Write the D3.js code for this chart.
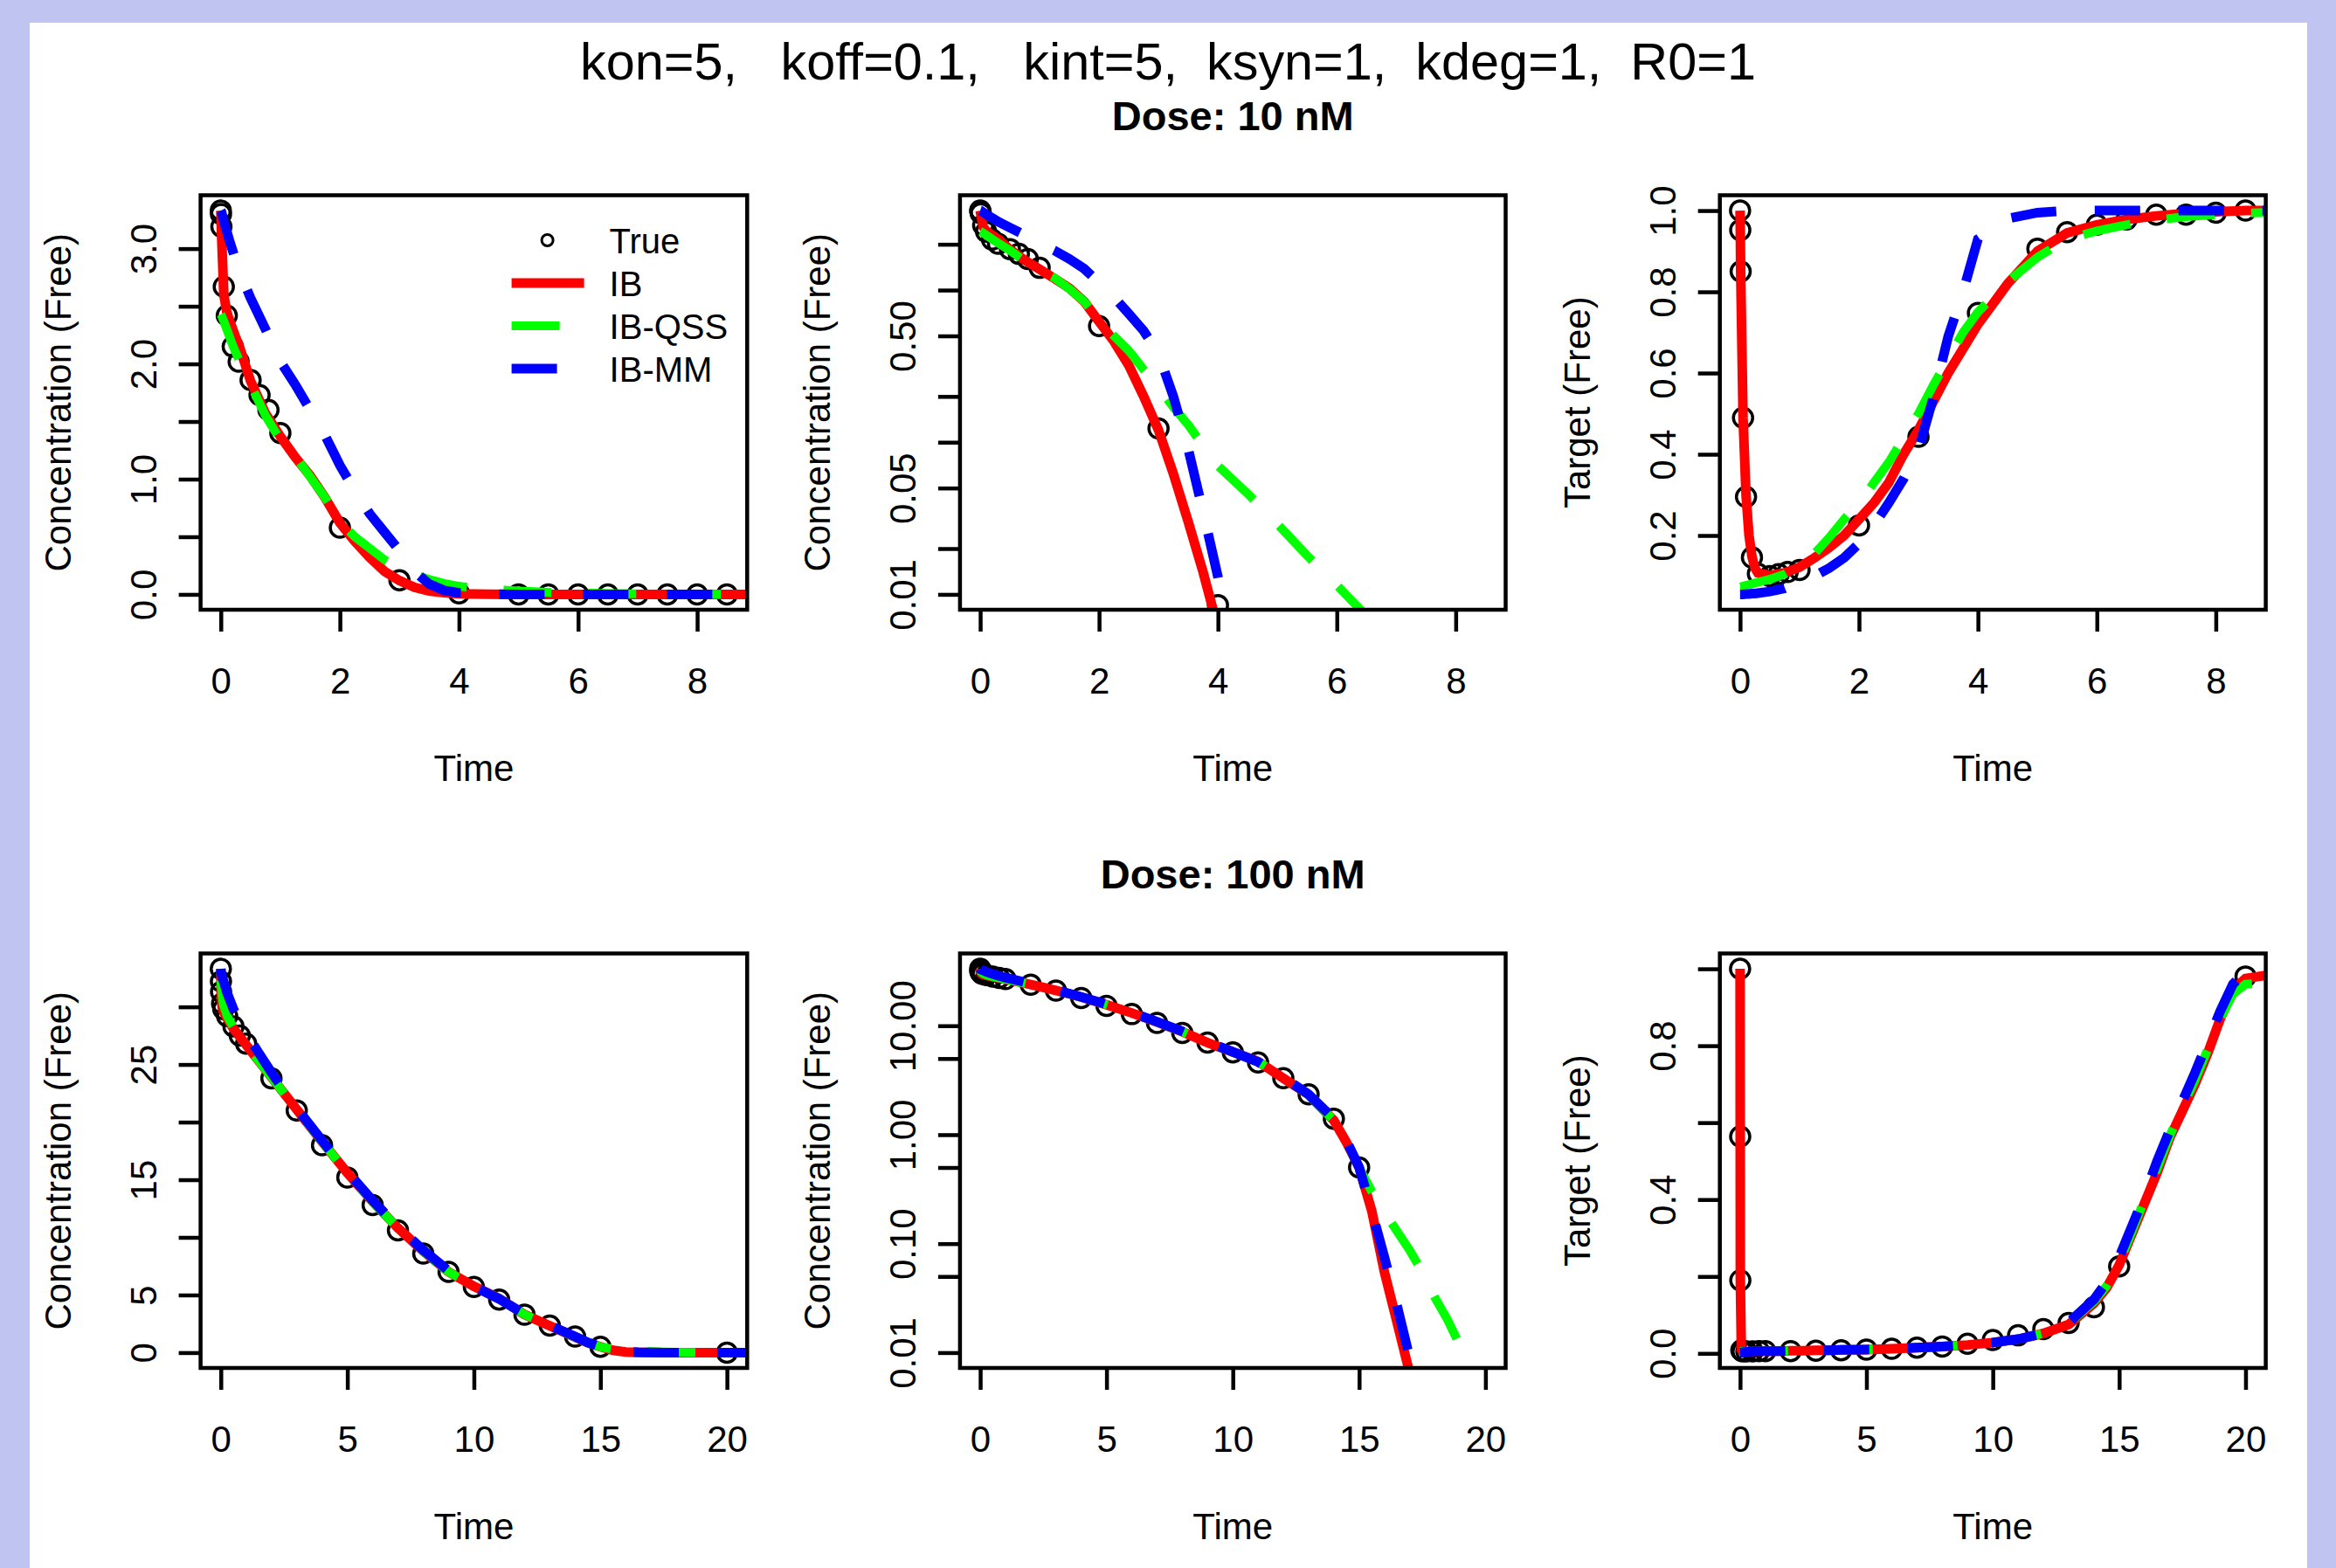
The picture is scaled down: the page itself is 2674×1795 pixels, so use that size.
<!DOCTYPE html>
<html>
<head>
<meta charset="utf-8">
<script src="https://cdn.jsdelivr.net/npm/d3@7"></script>
<style>
  html, body { margin: 0; padding: 0; background: #c0c4f0; }
  svg { display: block; }
  text { font-family: "Liberation Sans", Arial, sans-serif; fill: #000; }
</style>
</head>
<body>
<div id="chart"></div>
<script>
// ---- model time grids ----
const lineTime10 = [0, 0.01, 0.05, 0.1, 0.15, 0.2, 0.25, 0.3, 0.5, 0.75, 1, 1.25, 1.5, 1.75, 2, 2.25, 2.5, 2.75, 3, 3.25, 3.5, 3.75, 4, 4.5, 5, 5.5, 6, 6.5, 7, 7.5, 8, 8.5, 9];
const lineTime100 = [0, 0.005, 0.01, 0.05, 0.1, 0.25, 0.5, 0.75, 1, 1.5, 2, 2.5, 3, 3.5, 4, 5, 6, 7, 8, 9, 10, 11, 12, 13, 14, 14.5, 15, 15.5, 16, 16.5, 17, 17.5, 18, 18.5, 19, 19.5, 20, 21];

// ---- "True" sampled points ----
const trueTime10 = [0, 0.003, 0.01, 0.05, 0.1, 0.2, 0.3, 0.5, 0.65, 0.8, 1, 2, 3, 4, 5, 5.5, 6, 6.5, 7, 7.5, 8, 8.5];
const trueConc10 = [3.33, 3.3, 3.19, 2.67, 2.42, 2.15, 2.02, 1.86, 1.73, 1.6, 1.4, 0.58, 0.123, 0.0085, 0.0004, 0.0002, 0.0001, 0.0001, 0.0001, 0.0001, 0.0001, 0.0001];
const trueTarget10 = [1.0, 0.952, 0.85, 0.49, 0.295, 0.146, 0.106, 0.1, 0.105, 0.11, 0.115, 0.225, 0.443, 0.748, 0.906, 0.947, 0.965, 0.978, 0.99, 0.99, 0.995, 1.0];

const trueTime100 = [0, 0.005, 0.01, 0.05, 0.1, 0.25, 0.5, 0.75, 1, 2, 3, 4, 5, 6, 7, 8, 9, 10, 11, 12, 13, 14, 15, 20];
const trueConc100 = [33.3, 32.2, 31.3, 30.3, 29.8, 29.2, 28.3, 27.5, 26.8, 23.8, 21.0, 18.0, 15.2, 12.8, 10.6, 8.6, 7.0, 5.7, 4.6, 3.3, 2.35, 1.4, 0.5, 0.0001];
const trueTarget100 = [1.0, 0.564, 0.19, 0.008, 0.005, 0.005, 0.005, 0.006, 0.006, 0.006, 0.007, 0.008, 0.01, 0.012, 0.015, 0.018, 0.025, 0.035, 0.047, 0.063, 0.079, 0.12, 0.226, 0.98];

// ---- model curves, dose 10 nM ----
const conc10IB = [3.33, 3.15, 2.6, 2.45, 2.37, 2.3, 2.23, 2.17, 1.85, 1.57, 1.37, 1.19, 1.03, 0.84, 0.62, 0.46, 0.32, 0.2, 0.12, 0.062, 0.03, 0.014, 0.006, 0.0005, 0.0002, 0.0001, 0.0001, 0.0001, 0.0001, 0.0001, 0.0001, 0.0001, 0.0001];
const conc10QSS = [2.43, 2.42, 2.37, 2.3, 2.23, 2.16, 2.1, 2.04, 1.82, 1.55, 1.34, 1.2, 1.02, 0.84, 0.63, 0.5, 0.4, 0.3, 0.23, 0.17, 0.13, 0.095, 0.07, 0.046, 0.029, 0.018, 0.0115, 0.0072, 0.0046, 0.003, 0.0019, 0.0012, 0.0008];
const conc10MM = [3.33, 3.32, 3.24, 3.15, 3.06, 2.98, 2.9, 2.82, 2.57, 2.3, 2.02, 1.82, 1.6, 1.38, 1.12, 0.9, 0.7, 0.54, 0.38, 0.2, 0.09, 0.035, 0.013, 0.001, 0.0001, 0.0001, 0.0001, 0.0001, 0.0001, 0.0001, 0.0001, 0.0001, 0.0001];
const targ10IB = [1.0, 0.85, 0.49, 0.3, 0.2, 0.148, 0.12, 0.108, 0.102, 0.108, 0.122, 0.145, 0.17, 0.2, 0.24, 0.28, 0.33, 0.4, 0.46, 0.53, 0.6, 0.66, 0.72, 0.82, 0.9, 0.945, 0.965, 0.978, 0.987, 0.993, 0.997, 1.0, 1.0];
const targ10QSS = [0.073, 0.073, 0.075, 0.077, 0.079, 0.081, 0.083, 0.085, 0.092, 0.105, 0.125, 0.155, 0.195, 0.24, 0.28, 0.33, 0.38, 0.44, 0.5, 0.57, 0.635, 0.7, 0.75, 0.825, 0.885, 0.93, 0.95, 0.965, 0.977, 0.985, 0.99, 0.994, 0.996];
const targ10MM = [0.055, 0.055, 0.055, 0.056, 0.056, 0.057, 0.057, 0.058, 0.062, 0.07, 0.085, 0.1, 0.12, 0.145, 0.18, 0.225, 0.28, 0.34, 0.41, 0.54, 0.69, 0.8, 0.93, 0.98, 0.995, 1.0, 1.0, 1.0, 1.0, 1.0, 1.0, 1.0, 1.0];

// ---- model curves, dose 100 nM ----
const conc100IB = [33.3, 32.0, 31.2, 30.0, 29.6, 29.0, 28.1, 27.4, 26.7, 25.3, 23.9, 22.5, 21.1, 19.7, 18.3, 15.6, 13.1, 10.8, 8.8, 7.0, 5.75, 4.7, 3.3, 2.33, 1.35, 0.85, 0.5, 0.2, 0.055, 0.019, 0.0065, 0.002, 0.0007, 0.0002, 0.0001, 0.0001, 0.0001, 0.0001];
const conc100QSS = [32.3, 32.2, 32.0, 31.0, 30.2, 29.2, 28.2, 27.4, 26.7, 25.3, 23.9, 22.5, 21.1, 19.7, 18.3, 15.6, 13.1, 10.8, 8.8, 7.0, 5.75, 4.7, 3.3, 2.33, 1.35, 0.85, 0.5, 0.3, 0.195, 0.13, 0.087, 0.055, 0.032, 0.02, 0.0115, 0.0068, 0.004, 0.0014];
const conc100MM = [33.3, 33.2, 33.0, 32.6, 32.3, 31.2, 29.8, 28.6, 27.7, 26.0, 24.3, 22.7, 21.2, 19.8, 18.4, 15.7, 13.2, 10.9, 8.9, 7.1, 5.75, 4.65, 3.35, 2.35, 1.4, 0.88, 0.5, 0.2, 0.075, 0.027, 0.009, 0.003, 0.001, 0.0003, 0.0001, 0.0001, 0.0001, 0.0001];
const targ100IB = [1.0, 0.56, 0.19, 0.01, 0.006, 0.005, 0.005, 0.006, 0.006, 0.006, 0.007, 0.007, 0.008, 0.008, 0.009, 0.01, 0.012, 0.015, 0.018, 0.022, 0.028, 0.037, 0.052, 0.075, 0.13, 0.17, 0.23, 0.31, 0.39, 0.47, 0.56, 0.63, 0.7, 0.78, 0.87, 0.945, 0.975, 0.985];
const targ100QSS = [0.005, 0.005, 0.005, 0.005, 0.005, 0.005, 0.005, 0.006, 0.006, 0.006, 0.007, 0.007, 0.008, 0.008, 0.009, 0.01, 0.012, 0.015, 0.018, 0.022, 0.028, 0.037, 0.052, 0.078, 0.135, 0.175, 0.235, 0.315, 0.4, 0.48, 0.565, 0.64, 0.71, 0.79, 0.87, 0.935, 0.96, 0.965];
const targ100MM = [0.002, 0.002, 0.002, 0.002, 0.003, 0.004, 0.005, 0.006, 0.006, 0.006, 0.007, 0.007, 0.008, 0.008, 0.009, 0.01, 0.012, 0.015, 0.018, 0.022, 0.028, 0.037, 0.052, 0.08, 0.14, 0.185, 0.25, 0.33, 0.41, 0.5, 0.58, 0.655, 0.73, 0.81, 0.89, 0.96, 0.995, 1.0];

// ---- ticks and labels ----
const xTicks10 = [0, 2, 4, 6, 8];
const xTicks100 = [0, 5, 10, 15, 20];
const yTicksConc10 = [0, 0.5, 1, 1.5, 2, 2.5, 3];
const yLabelsConc10 = ["0.0", "", "1.0", "", "2.0", "", "3.0"];
const yTicksLog10 = [0.01, 0.02, 0.05, 0.1, 0.2, 0.5, 1, 2];
const yLabelsLog10 = ["0.01", "", "0.05", "", "", "0.50", "", ""];
const yTicksTarget10 = [0.2, 0.4, 0.6, 0.8, 1.0];
const yLabelsTarget10 = ["0.2", "0.4", "0.6", "0.8", "1.0"];
const yTicksConc100 = [0, 5, 10, 15, 20, 25, 30];
const yLabelsConc100 = ["0", "5", "", "15", "", "25", ""];
const yTicksLog100 = [0.01, 0.05, 0.1, 0.5, 1, 5, 10];
const yLabelsLog100 = ["0.01", "", "0.10", "", "1.00", "", "10.00"];
const yTicksTarget100 = [0, 0.2, 0.4, 0.6, 0.8, 1.0];
const yLabelsTarget100 = ["0.0", "", "0.4", "", "0.8", ""];

const legendNames = ["True", "IB", "IB-QSS", "IB-MM"];
const mainTitle = "kon=5,   koff=0.1,   kint=5,  ksyn=1,  kdeg=1,  R0=1";
const doseTitles = ["Dose: 10 nM", "Dose: 100 nM"];

// ---- layout ----
const W = 2674, H = 1795;
const colX = [[229.6, 855.3], [1098.9, 1723.5], [1968.7, 2593.6]];
const rowY = [[223.5, 698], [1091.5, 1566]];
const FONT = 42;
const styles = {
    IB:  { color: "#ff0000", width: 11, dash: null },
    QSS: { color: "#00ff00", width: 10, dash: "55,42" },
    MM:  { color: "#0000ff", width: 11, dash: "52,44" }
};

// R pads the data range by 4% on each side
function extend(lo, hi) {
    const d = (hi - lo) * 0.04;
    return [lo - d, hi + d];
}

const svg = d3.select("#chart")
    .append("svg")
    .attr("width", W)
    .attr("height", H);

svg.append("rect").attr("width", W).attr("height", H).attr("fill", "#c0c4f0");
svg.append("rect").attr("x", 34).attr("y", 26).attr("width", 2607).attr("height", H - 26).attr("fill", "#fff");

/**
 * Draws one base-graphics style panel.
 */
function drawPanel(p, idx) {
    const [x0, x1] = colX[p.col];
    const [y0, y1] = rowY[p.row];
    const g = svg.append("g");

    const x = d3.scaleLinear()
        .domain(extend(0, d3.max(p.trueTime)))
        .range([x0, x1]);

    const all = p.trueValues.concat(...p.series.map(s => s.values));
    let y;
    if (p.log) {
        const [lo, hi] = extend(Math.log10(0.01), Math.log10(d3.max(all)));
        y = d3.scaleLog().domain([10 ** lo, 10 ** hi]).range([y1, y0]);
    } else {
        y = d3.scaleLinear().domain(extend(d3.min(all), d3.max(all))).range([y1, y0]);
    }

    svg.append("clipPath").attr("id", "clip" + idx)
        .append("rect")
        .attr("x", x0).attr("y", y0)
        .attr("width", x1 - x0).attr("height", y1 - y0);

    const plot = g.append("g").attr("clip-path", `url(#clip${idx})`);

    // True points
    plot.selectAll("circle")
        .data(p.trueTime.map((t, i) => [t, p.trueValues[i]]))
        .enter()
        .append("circle")
        .attr("cx", d => x(d[0]))
        .attr("cy", d => y(d[1]))
        .attr("r", 11)
        .attr("fill", "none")
        .attr("stroke", "#000")
        .attr("stroke-width", 3.5);

    // model curves
    const line = d3.line()
        .x(d => x(d[0]))
        .y(d => y(d[1]));

    p.series.forEach(s => {
        const st = styles[s.key];
        plot.append("path")
            .datum(p.lineTime.map((t, i) => [t, s.values[i]]))
            .attr("fill", "none")
            .attr("stroke", st.color)
            .attr("stroke-width", st.width)
            .attr("stroke-dasharray", st.dash)
            .attr("d", line);
    });

    // axes
    const xAxis = g.append("g")
        .attr("transform", `translate(0,${y1})`)
        .call(d3.axisBottom(x).tickValues(p.xTicks).tickSize(25).tickSizeOuter(0).tickFormat(d3.format("d")));
    xAxis.select(".domain").remove();
    xAxis.selectAll("line").attr("stroke", "#000").attr("stroke-width", 4.5);
    xAxis.selectAll("text")
        .attr("y", 96).attr("dy", null)
        .attr("font-size", FONT)
        .attr("font-family", "Liberation Sans, Arial, sans-serif");

    const yAxis = g.append("g")
        .attr("transform", `translate(${x0},0)`)
        .call(d3.axisLeft(y).tickValues(p.yTicks).tickSize(25).tickSizeOuter(0).tickFormat((d, i) => p.yLabels[i]));
    yAxis.select(".domain").remove();
    yAxis.selectAll("line").attr("stroke", "#000").attr("stroke-width", 4.5);
    yAxis.selectAll("text")
        .attr("x", 0).attr("dy", null)
        .attr("text-anchor", "middle")
        .attr("transform", "translate(-51,0) rotate(-90)")
        .attr("font-size", FONT)
        .attr("font-family", "Liberation Sans, Arial, sans-serif");

    // box
    g.append("rect")
        .attr("x", x0).attr("y", y0)
        .attr("width", x1 - x0).attr("height", y1 - y0)
        .attr("fill", "none")
        .attr("stroke", "#000")
        .attr("stroke-width", 4.5);

    // axis titles
    g.append("text")
        .attr("x", (x0 + x1) / 2)
        .attr("y", y1 + 196)
        .attr("text-anchor", "middle")
        .style("font-size", FONT + "px")
        .text("Time");

    g.append("text")
        .attr("transform", `translate(${x0 - 149},${(y0 + y1) / 2}) rotate(-90)`)
        .attr("text-anchor", "middle")
        .style("font-size", FONT + "px")
        .text(p.yTitle);

    if (p.title) {
        g.append("text")
            .attr("x", (x0 + x1) / 2)
            .attr("y", y0 - 75)
            .attr("text-anchor", "middle")
            .style("font-size", "47px")
            .style("font-weight", "bold")
            .text(p.title);
    }

    if (p.legend) drawLegend(g, x0, y0);
}

function drawLegend(g, x0, y0) {
    const keys = [null, "IB", "QSS", "MM"];
    legendNames.forEach((name, i) => {
        const base = y0 + 66.5 + 49 * i;
        const cy = base - 15;
        if (i === 0) {
            g.append("circle")
                .attr("cx", x0 + 397).attr("cy", cy).attr("r", 6.5)
                .attr("fill", "none").attr("stroke", "#000").attr("stroke-width", 3);
        } else {
            const st = styles[keys[i]];
            g.append("line")
                .attr("x1", x0 + 356).attr("x2", x0 + 439)
                .attr("y1", cy).attr("y2", cy)
                .attr("stroke", st.color)
                .attr("stroke-width", st.width)
                .attr("stroke-dasharray", st.dash);
        }
        g.append("text")
            .attr("x", x0 + 468)
            .attr("y", base)
            .style("font-size", "40px")
            .text(name);
    });
}

const panels = [
    { row: 0, col: 0, log: false, trueTime: trueTime10, trueValues: trueConc10, lineTime: lineTime10,
      series: [{ key: "IB", values: conc10IB }, { key: "QSS", values: conc10QSS }, { key: "MM", values: conc10MM }],
      xTicks: xTicks10, yTicks: yTicksConc10, yLabels: yLabelsConc10, yTitle: "Concentration (Free)", legend: true },
    { row: 0, col: 1, log: true, trueTime: trueTime10, trueValues: trueConc10, lineTime: lineTime10,
      series: [{ key: "IB", values: conc10IB }, { key: "QSS", values: conc10QSS }, { key: "MM", values: conc10MM }],
      xTicks: xTicks10, yTicks: yTicksLog10, yLabels: yLabelsLog10, yTitle: "Concentration (Free)", title: doseTitles[0] },
    { row: 0, col: 2, log: false, trueTime: trueTime10, trueValues: trueTarget10, lineTime: lineTime10,
      series: [{ key: "IB", values: targ10IB }, { key: "QSS", values: targ10QSS }, { key: "MM", values: targ10MM }],
      xTicks: xTicks10, yTicks: yTicksTarget10, yLabels: yLabelsTarget10, yTitle: "Target (Free)" },
    { row: 1, col: 0, log: false, trueTime: trueTime100, trueValues: trueConc100, lineTime: lineTime100,
      series: [{ key: "IB", values: conc100IB }, { key: "QSS", values: conc100QSS }, { key: "MM", values: conc100MM }],
      xTicks: xTicks100, yTicks: yTicksConc100, yLabels: yLabelsConc100, yTitle: "Concentration (Free)" },
    { row: 1, col: 1, log: true, trueTime: trueTime100, trueValues: trueConc100, lineTime: lineTime100,
      series: [{ key: "IB", values: conc100IB }, { key: "QSS", values: conc100QSS }, { key: "MM", values: conc100MM }],
      xTicks: xTicks100, yTicks: yTicksLog100, yLabels: yLabelsLog100, yTitle: "Concentration (Free)", title: doseTitles[1] },
    { row: 1, col: 2, log: false, trueTime: trueTime100, trueValues: trueTarget100, lineTime: lineTime100,
      series: [{ key: "IB", values: targ100IB }, { key: "QSS", values: targ100QSS }, { key: "MM", values: targ100MM }],
      xTicks: xTicks100, yTicks: yTicksTarget100, yLabels: yLabelsTarget100, yTitle: "Target (Free)" }
];

panels.forEach(drawPanel);

// outer title, sized to span the same width as the original
const title = svg.append("text")
    .attr("x", 1337)
    .attr("y", 91)
    .attr("text-anchor", "middle")
    .style("white-space", "pre")
    .style("font-size", "56px")
    .text(mainTitle);
const tw = title.node().getComputedTextLength();
if (tw > 0) title.style("font-size", (56 * 1347 / tw).toFixed(1) + "px");
</script>
</body>
</html>
